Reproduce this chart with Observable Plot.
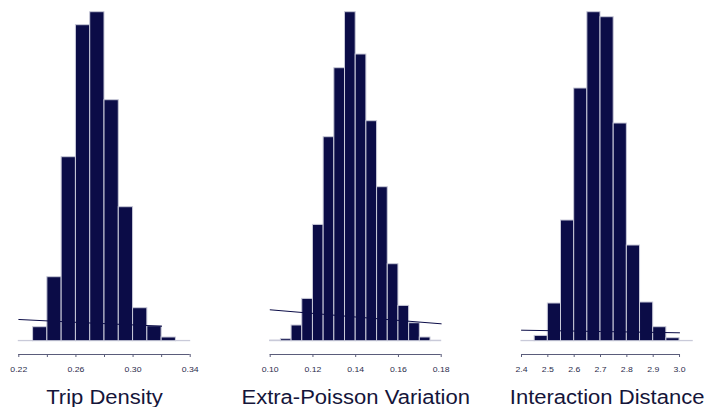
<!DOCTYPE html>
<html><head><meta charset="utf-8">
<script src="https://cdn.jsdelivr.net/npm/d3@7"></script>
<script src="https://cdn.jsdelivr.net/npm/@observablehq/plot@0.6"></script>
<style>
html,body{margin:0;padding:0;background:#fff;}
#chart{position:relative;width:706px;height:407px;overflow:hidden;}
#chart svg{position:absolute;left:0;top:0;background:transparent;}
</style></head><body><div id="chart"></div>
<script>
// ---- Trip Density ----
const tripTitle = "Trip Density";
const tripBinStart = [0.22,0.23,0.24,0.25,0.26,0.27,0.28,0.29,0.30,0.31,0.32,0.33];
const tripCounts   = [0.3,14,64,184,316,329,241,134,33,15,3.7,0.3];
const tripBinWidth = 0.01;
const tripLineX = [0.22,0.27,0.32];
const tripLineY = [21.7,18.2,15];
const tripTicks = [0.22,0.24,0.26,0.28,0.30,0.32,0.34];
const tripTickLabels = ["0.22","","0.26","","0.30","","0.34"];
const tripDomain = [0.22,0.34];

// ---- Extra-Poisson Variation ----
const epvTitle = "Extra-Poisson Variation";
const epvBinStart = [0.100,0.105,0.110,0.115,0.120,0.125,0.130,0.135,0.140,0.145,0.150,0.155,0.160,0.165,0.170,0.175];
const epvCounts   = [0.7,2,15.7,42.3,116.3,204,273,329,286.7,220,154,77,35.3,18,3.7,0.5];
const epvBinWidth = 0.005;
const epvLineX = [0.10,0.14,0.18];
const epvLineY = [31.4,24.2,17.4];
const epvTicks = [0.10,0.12,0.14,0.16,0.18];
const epvTickLabels = ["0.10","0.12","0.14","0.16","0.18"];
const epvDomain = [0.10,0.18];

// ---- Interaction Distance ----
const idTitle = "Interaction Distance";
const idBinStart = [2.40,2.45,2.50,2.55,2.60,2.65,2.70,2.75,2.80,2.85,2.90,2.95,3.00];
const idCounts   = [0.3,5.3,37.7,120.7,252.7,329,324,217.7,95.7,38.7,14,3,0.3];
const idBinWidth = 0.05;
const idLineX = [2.4,2.7,3.0];
const idLineY = [11,9.7,8.4];
const idTicks = [2.4,2.5,2.6,2.7,2.8,2.9,3.0];
const idTickLabels = ["2.4","2.5","2.6","2.7","2.8","2.9","3.0"];
const idDomain = [2.4,3.05];

const NAVY = "#0b0c47";

function panel(p) {
  const bars = p.starts.map((s,i)=>({x1:s, x2:s+p.bw, y:p.counts[i]}));
  const line = p.lineX.map((x,i)=>({x, y:p.lineY[i]}));
  const labelMap = new Map(p.ticks.map((t,i)=>[t, p.labels[i]]));
  const svg = Plot.plot({
    width:706, height:407,
    marginTop:11.7, marginBottom:53, marginLeft:p.mL, marginRight:p.mR,
    style:{background:"transparent", fontFamily:"'Liberation Sans', Arial, sans-serif"},
    x:{domain:p.domain, axis:null},
    y:{domain:[0, d3.max(p.counts)], insetBottom:13.3, axis:null},
    marks:[
      Plot.rectY(bars,{x1:"x1",x2:"x2",y:"y",fill:NAVY,stroke:"#c9cad9",strokeWidth:1}),
      Plot.line(line,{x:"x",y:"y",stroke:NAVY,strokeWidth:1}),
      Plot.ruleY([0],{x1:p.ticks[0],x2:p.ticks[p.ticks.length-1],dy:13.3,stroke:"#5a5c7a",strokeWidth:1.2}),
      Plot.axisX(p.ticks,{tickSize:3, tickPadding:9.3, tickFormat:d=>labelMap.get(d), fontSize:7.5, fill:"#2c2c4c", stroke:"#5a5c7a"}),
      Plot.text([p.title],{frameAnchor:"bottom", dy:43, fontSize:19.5, fill:"#15153a", lineAnchor:"middle"})
    ]
  });
  svg.querySelectorAll("text").forEach(t=>{
    const sx = t.textContent.length > 5 ? 1.13 : 1.16;
    const tr = t.getAttribute("transform") || "";
    t.setAttribute("transform", tr + ` scale(${sx},1)`);
  });
  document.getElementById("chart").appendChild(svg);
}

panel({title:tripTitle, starts:tripBinStart, counts:tripCounts, bw:tripBinWidth, lineX:tripLineX, lineY:tripLineY,
  ticks:tripTicks, labels:tripTickLabels, domain:tripDomain, mL:18.3, mR:706-189.7});
panel({title:epvTitle, starts:epvBinStart, counts:epvCounts, bw:epvBinWidth, lineX:epvLineX, lineY:epvLineY,
  ticks:epvTicks, labels:epvTickLabels, domain:epvDomain, mL:269.7, mR:706-440.7});
panel({title:idTitle, starts:idBinStart, counts:idCounts, bw:idBinWidth, lineX:idLineX, lineY:idLineY,
  ticks:idTicks, labels:idTickLabels, domain:idDomain, mL:521, mR:706-692.2});
</script></body></html>
